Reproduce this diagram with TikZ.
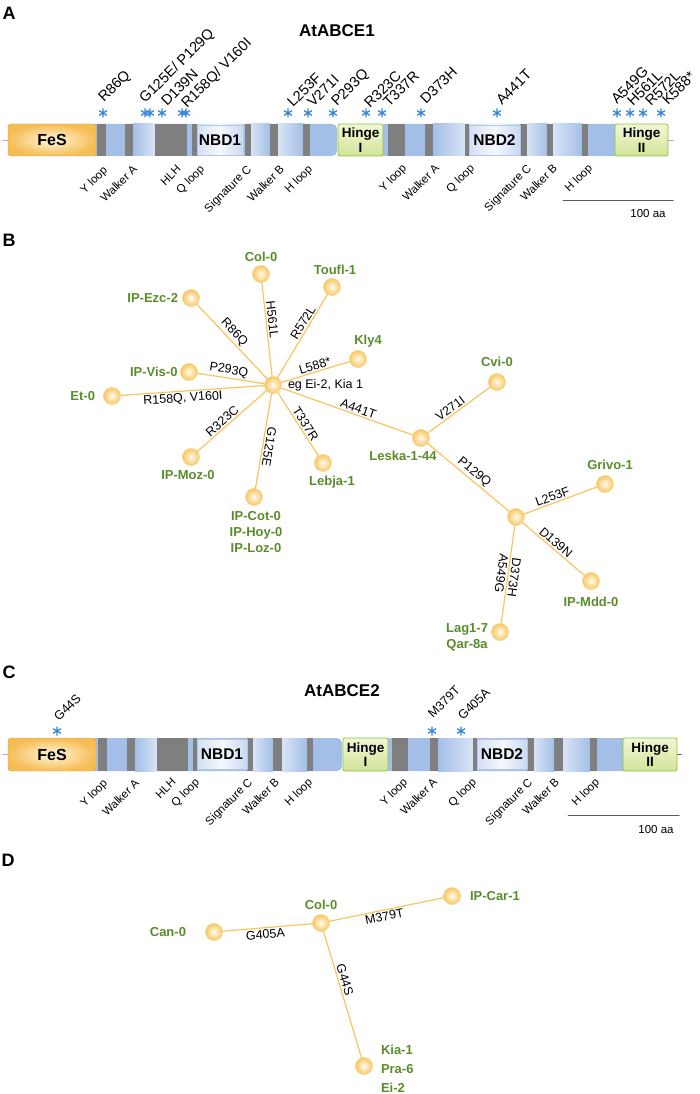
\documentclass[tikz,border=0pt]{standalone}
\usepackage{fontspec}
\setmainfont{Liberation Sans}
\usetikzlibrary{positioning}

\definecolor{fes}{HTML}{F6BD55}
\definecolor{fesin}{HTML}{FFF6DC}
\definecolor{barblue}{HTML}{A3BFE7}
\definecolor{barlight}{HTML}{D8E4F5}
\definecolor{bandgray}{HTML}{7F7F7F}
\definecolor{nbdside}{HTML}{D3DFF2}
\definecolor{nbdmid}{HTML}{F5F8FD}
\definecolor{nbdline}{HTML}{B3C8E8}
\definecolor{hingetop}{HTML}{F2F7D6}
\definecolor{hingebot}{HTML}{D2E398}
\definecolor{hingeline}{HTML}{8CC43F}
\definecolor{astblue}{HTML}{3585D4}
\definecolor{edgeorange}{HTML}{F8C45E}
\definecolor{samin}{HTML}{FFFBEF}
\definecolor{samout}{HTML}{F9C763}
\definecolor{samline}{HTML}{F8D488}
\definecolor{accgreen}{HTML}{5A8C2B}
\definecolor{tickpink}{HTML}{D493BD}

\tikzset{
  panel/.style={inner sep=0pt, font=\bfseries\fontsize{18}{20}\selectfont},
  ttl/.style={inner sep=0pt, font=\bfseries\fontsize{17}{20}\selectfont},
  fesbox/.style={rectangle, rounded corners=3pt, draw=fes!85!black, line width=.4pt,
    inner color=fesin, outer color=fes, minimum width=88pt, minimum height=32pt,
    font=\bfseries\fontsize{16}{18}\selectfont},
  nbd/.style={rectangle, draw=nbdline, line width=.5pt, left color=nbdside,
    right color=nbdside!80!barblue, middle color=nbdmid, minimum height=30pt,
    inner sep=0pt, font=\bfseries\fontsize{15.5}{18}\selectfont},
  hinge/.style={rectangle, rounded corners=2pt, draw=hingeline, line width=.8pt,
    top color=hingetop, bottom color=hingebot, minimum height=32pt, inner sep=0pt,
    align=center, font=\bfseries\fontsize{13.5}{14.5}\selectfont},
  barfill/.style={fill=barblue, rounded corners=5pt},
  band/.style={fill=bandgray},
  mutstar/.style={draw=astblue, line width=1.3pt, line cap=butt},
  mut/.style={rotate=45, anchor=base west, inner sep=0pt, font=\fontsize{14.5}{16}\selectfont},
  mutc/.style={rotate=45, anchor=base west, inner sep=0pt, font=\fontsize{12.5}{14}\selectfont},
  motif/.style={rotate=45, anchor=north east, inner sep=0pt, font=\fontsize{11.5}{13}\selectfont},
  scalebar/.style={draw=black!65, line width=1pt},
  sam/.style={circle, minimum size=17pt, inner sep=0pt, draw=samline, line width=.6pt,
    inner color=samin, outer color=samout},
  edge/.style={draw=edgeorange, line width=1.2pt},
  elab/.style={sloped, inner sep=1.5pt, font=\fontsize{12.5}{14}\selectfont},
  acc/.style={text=accgreen, inner sep=1pt, align=center, font=\bfseries\fontsize{13}{16}\selectfont},
}

\begin{document}
\begin{tikzpicture}[x=1pt, y=-1pt, line join=round, line cap=round]
\useasboundingbox (0,0) rectangle (699,1094);

% ---------- A : AtABCE1 ----------
\def\ya{124} \def\yb{156}
\node[panel] (lA) at (9,13) {A};
\node[ttl] (t1) at (337,31) {AtABCE1};
\fill[barfill] (90,\ya) rectangle (337,\yb);
\fill[barfill] (380,\ya) rectangle (620,\yb);
\shade[left color=barblue, right color=barlight] (133,\ya) rectangle (155,\yb);
\shade[left color=barlight, right color=barblue] (251,\ya) rectangle (270,\yb);
\shade[left color=barlight, right color=barblue] (278,\ya) rectangle (303,\yb);
\shade[left color=barblue, right color=barlight] (433,\ya) rectangle (465,\yb);
\shade[left color=barlight, right color=barblue] (527,\ya) rectangle (547,\yb);
\shade[left color=barlight, right color=barblue] (553,\ya) rectangle (582,\yb);
\foreach \a/\b in {97/106,125/133,155/187,192/197,245/251,270/278,303/310,
                   388/405,425/433,465/469,520/527,547/553,582/588}
  \fill[band] (\a,\ya) rectangle (\b,\yb);
\node[nbd, minimum width=46pt] (nbd1) at (220,140) {NBD1};
\node[nbd, minimum width=51pt] (nbd2) at (494.5,140) {NBD2};
\node[fesbox] (fes1) at (52,140) {FeS};
\node[hinge, minimum width=45pt] (hgI) at (360.5,140) {Hinge\\I};
\node[hinge, minimum width=53pt] (hgII) at (641.5,140) {Hinge\\II};
\draw[tickpink, line width=.8pt] (fes1.west) -- +(-5,0);
\draw[tickpink, line width=.8pt] (hgII.east) -- +(5,0);
\foreach \x in {103,145,150,162,182,186,288,308,333,366,382,421,497,617,630,643,661}
  \draw[mutstar] (\x,113) +(0,-4.5) -- +(0,4.5) +(-3.9,-2.25) -- +(3.9,2.25) +(-3.9,2.25) -- +(3.9,-2.25);
\foreach \x/\y/\t in {104/103/R86Q, 145/104/{G125E/ P129Q}, 167/107/D139N, 187/109/{R158Q/ V160I},
                      293/108/L253F, 313/108/V271I, 337/107/P293Q, 370/109/R323C, 389/108/T337R,
                      426/105/D373H, 502/106/A441T, 617/105/A549G, 633/107/H561L, 651/107/R572L,
                      668/106/K588*}
  \node[mut] at (\x,\y) {\t};
\foreach \x/\y/\t in {102/165/Y loop, 132/164/Walker A, 176/164/HLH, 199/164/Q loop,
                      246/164/Signature C, 279/164/Walker B, 307/164/H loop,
                      401/163/Y loop, 434/163/Walker A, 469/163/Q loop,
                      526/163/Signature C, 552/163/Walker B, 587/163/H loop}
  \node[motif] at (\x,\y) {\t};
\draw[scalebar] (563,200) -- (673,200);
\node[font=\fontsize{11.5}{13}\selectfont] (sbA) at (648,214) {100 aa};

% ---------- B : network AtABCE1 ----------
\node[panel] (lB) at (9,240) {B};
\node[sam] (hubA) at (273,385) {};
\node[sam] (col) at (261,274) {};
\node[sam] (toufl) at (332,287) {};
\node[sam] (ezc) at (191,298) {};
\node[sam] (vis) at (189,372) {};
\node[sam] (et) at (112,396) {};
\node[sam] (moz) at (191,457) {};
\node[sam] (cot) at (254,497) {};
\node[sam] (lebja) at (323,463) {};
\node[sam] (kly) at (358,359) {};
\node[sam] (leska) at (421,438) {};
\node[sam] (cvi) at (497,382) {};
\node[sam] (hubB) at (516,517) {};
\node[sam] (grivo) at (605,484) {};
\node[sam] (mdd) at (591,581) {};
\node[sam] (lag) at (500,632) {};

\node[acc, above=2pt of col] (colT) {Col-0};
\node[acc, above=2pt of toufl, xshift=3pt] (touflT) {Toufl-1};
\node[acc, left=3pt of ezc] (ezcT) {IP-Ezc-2};
\node[acc, left=1.5pt of vis] (visT) {IP-Vis-0};
\node[acc, left=7pt of et] (etT) {Et-0};
\node[acc, below=3pt of moz, xshift=-3pt] (mozT) {IP-Moz-0};
\node[acc, below=4pt of cot, xshift=2pt] (cotT) {IP-Cot-0\\IP-Hoy-0\\IP-Loz-0};
\node[acc, below=3pt of lebja, xshift=9pt] (lebjaT) {Lebja-1};
\node[acc, above=2pt of kly, xshift=10pt] (klyT) {Kly4};
\node[acc, above=5pt of cvi] (cviT) {Cvi-0};
\node[acc, below=3pt of leska, xshift=-18pt] (leskaT) {Leska-1-44};
\node[acc, above=4pt of grivo, xshift=5pt] (grivoT) {Grivo-1};
\node[acc, below=6pt of mdd] (mddT) {IP-Mdd-0};
\node[acc, left=2pt of lag, yshift=-5pt] (lagT) {Lag1-7\\Qar-8a};
\node[right=6pt of hubA, inner sep=0pt, font=\fontsize{12.5}{14}\selectfont] (eg) {eg Ei-2, Kia 1};

\draw[edge] (col) -- (hubA) node[elab, pos=.4, above]{H561L};
\draw[edge] (hubA) -- (toufl) node[elab, pos=.62, above]{R572L};
\draw[edge] (ezc) -- (hubA) node[elab, pos=.45, above]{R86Q};
\draw[edge] (vis) -- (hubA) node[elab, pos=.45, above]{P293Q};
\draw[edge] (et) -- (hubA) node[elab, pos=.43, below]{R158Q, V160I};
\draw[edge] (moz) -- (hubA) node[elab, pos=.42, above]{R323C};
\draw[edge] (hubA) -- (cot) node[elab, allow upside down, pos=.55, above]{G125E};
\draw[edge] (hubA) -- (lebja) node[elab, pos=.55, above]{T337R};
\draw[edge] (hubA) -- (kly) node[elab, pos=.52, above]{L588*};
\draw[edge] (hubA) -- (leska) node[elab, pos=.57, above]{A441T};
\draw[edge] (leska) -- (cvi) node[elab, pos=.42, above]{V271I};
\draw[edge] (leska) -- (hubB) node[elab, pos=.51, above]{P129Q};
\draw[edge] (hubB) -- (grivo) node[elab, pos=.42, above]{L253F};
\draw[edge] (hubB) -- (mdd) node[elab, pos=.47, above]{D139N};
\draw[edge] (hubB) -- (lag) node[elab, allow upside down, pos=.52, above]{D373H}
                            node[elab, allow upside down, pos=.5, below]{A549G};

% ---------- C : AtABCE2 ----------
\def\yc{738} \def\yd{771}
\node[panel] (lC) at (9,672) {C};
\node[ttl] (t2) at (342,691) {AtABCE2};
\fill[barfill] (90,\yc) rectangle (342,\yd);
\fill[barfill] (385,\yc) rectangle (628,\yd);
\shade[left color=barblue, right color=barlight] (135,\yc) rectangle (157,\yd);
\shade[left color=barlight, right color=barblue] (253,\yc) rectangle (273,\yd);
\shade[left color=barlight, right color=barblue] (282,\yc) rectangle (307,\yd);
\shade[left color=barblue, right color=barlight] (438,\yc) rectangle (473,\yd);
\shade[left color=barlight, right color=barblue] (534,\yc) rectangle (554,\yd);
\shade[left color=barlight, right color=barblue] (563,\yc) rectangle (590,\yd);
\foreach \a/\b in {98/107,127/135,157/188,193/197,247/253,273/282,307/313,
                   392/408,430/438,473/477,527/534,554/563,590/597}
  \fill[band] (\a,\yc) rectangle (\b,\yd);
\node[nbd, minimum width=50pt] (nbd3) at (222,754.5) {NBD1};
\node[nbd, minimum width=50pt] (nbd4) at (502,754.5) {NBD2};
\node[fesbox, minimum height=33pt] (fes2) at (52,754.5) {FeS};
\node[hinge, minimum width=45pt, minimum height=33pt] (hgIII) at (365.5,754.5) {Hinge\\I};
\node[hinge, minimum width=54pt, minimum height=33pt] (hgIV) at (650,754.5) {Hinge\\II};
\draw[tickpink, line width=.8pt] (fes2.west) -- +(-5,0);
\draw[black!60, line width=.8pt] (hgIV.east) -- +(4,0);
\foreach \x in {57,432,461}
  \draw[mutstar] (\x,731) +(0,-4.5) -- +(0,4.5) +(-3.9,-2.25) -- +(3.9,2.25) +(-3.9,2.25) -- +(3.9,-2.25);
\foreach \x/\y/\t in {59/722/G44S, 433/719/M379T, 463/721/G405A}
  \node[mutc] at (\x,\y) {\t};
\foreach \x/\y/\t in {102/778/Y loop, 134/778/Walker A, 171/777/HLH, 194/777/Q loop,
                      247/777/Signature C, 274/777/Walker B, 307/777/H loop,
                      402/777/Y loop, 432/777/Walker A, 471/777/Q loop,
                      527/777/Signature C, 554/777/Walker B, 594/777/H loop}
  \node[motif] at (\x,\y) {\t};
\draw[scalebar] (568,815) -- (679,815);
\node[font=\fontsize{11.5}{13}\selectfont] (sbC) at (656,830) {100 aa};

% ---------- D : network AtABCE2 ----------
\node[panel] (lD) at (8,860) {D};
\node[sam] (hubD) at (321,923) {};
\node[sam] (car) at (452,896) {};
\node[sam] (can) at (214,932) {};
\node[sam] (kia) at (364,1066) {};
\node[acc, above=3pt of hubD] (colD) {Col-0};
\node[acc, right=8pt of car] (carT) {IP-Car-1};
\node[acc, left=18pt of can] (canT) {Can-0};
\node[acc, right=7pt of kia, yshift=-3pt, align=left, font=\bfseries\fontsize{13}{19}\selectfont] (kiaT) {Kia-1\\Pra-6\\Ei-2};
\draw[edge] (can) -- (hubD) node[elab, pos=.47, below]{G405A};
\draw[edge] (hubD) -- (car) node[elab, pos=.47, below]{M379T};
\draw[edge] (hubD) -- (kia) node[elab, pos=.4, above]{G44S};
\end{tikzpicture}
\end{document}
